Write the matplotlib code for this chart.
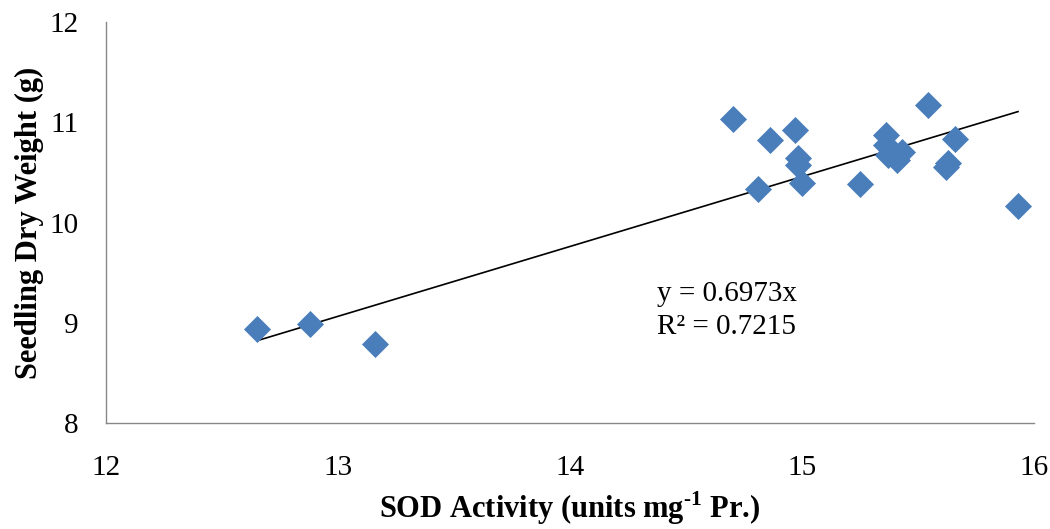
import matplotlib
matplotlib.use("Agg")
import matplotlib.pyplot as plt
import numpy as np

sod = [12.65, 12.88, 13.16, 14.70, 14.86, 14.97, 14.81, 14.98, 14.98, 15.00,
       15.25, 15.36, 15.36, 15.37, 15.41, 15.43, 15.54, 15.66, 15.63, 15.62, 15.93]
weight = [8.94, 8.99, 8.79, 11.03, 10.82, 10.92, 10.34, 10.64, 10.57, 10.40,
          10.39, 10.87, 10.77, 10.67, 10.62, 10.70, 11.17, 10.83, 10.59, 10.55, 10.17]
slope = 0.6973
eq_text = "y = 0.6973x"
r2_text = "R² = 0.7215"
xticks = [12, 13, 14, 15, 16]
yticks = [8, 9, 10, 11, 12]

plt.rcParams['font.family'] = ['Liberation Serif', 'DejaVu Serif']
plt.rcParams['mathtext.fontset'] = 'custom'
plt.rcParams['mathtext.rm'] = 'Liberation Serif:bold'
plt.rcParams['mathtext.bf'] = 'Liberation Serif:bold'

fig = plt.figure(figsize=(10.5, 5.29), dpi=100)
ax = fig.add_axes([0.101, 0.2004, 0.884, 0.7576])

ax.scatter(sod, weight, marker='D', s=190, color='#4A7EBB', zorder=3, linewidths=0)
xs = np.array([min(sod), max(sod)])
ax.plot(xs, slope * xs, color='black', lw=1.2, zorder=2)

ax.set_xlim(12, 16)
ax.set_ylim(8, 12)
ax.set_xticks(xticks)
ax.set_yticks(yticks)
ax.tick_params(axis='both', length=0, labelsize=21)
ax.tick_params(axis='x', pad=23)
ax.tick_params(axis='y', pad=20)
for s in ['top', 'right']:
    ax.spines[s].set_visible(False)
for s in ['left', 'bottom']:
    ax.spines[s].set_color('#888888')
    ax.spines[s].set_linewidth(1.0)

ax.set_xlabel(r"SOD Activity (units mg$^{\text{-}1}$ Pr.)", fontsize=22, fontweight='bold', labelpad=6)
ax.set_ylabel("Seedling Dry Weight (g)", fontsize=22, fontweight='bold', labelpad=4)

ax.text(14.375, 9.29, eq_text, fontsize=21, ha='left', va='center')
ax.text(14.375, 8.96, r2_text, fontsize=21, ha='left', va='center')

fig.savefig("out.png", dpi=100)
